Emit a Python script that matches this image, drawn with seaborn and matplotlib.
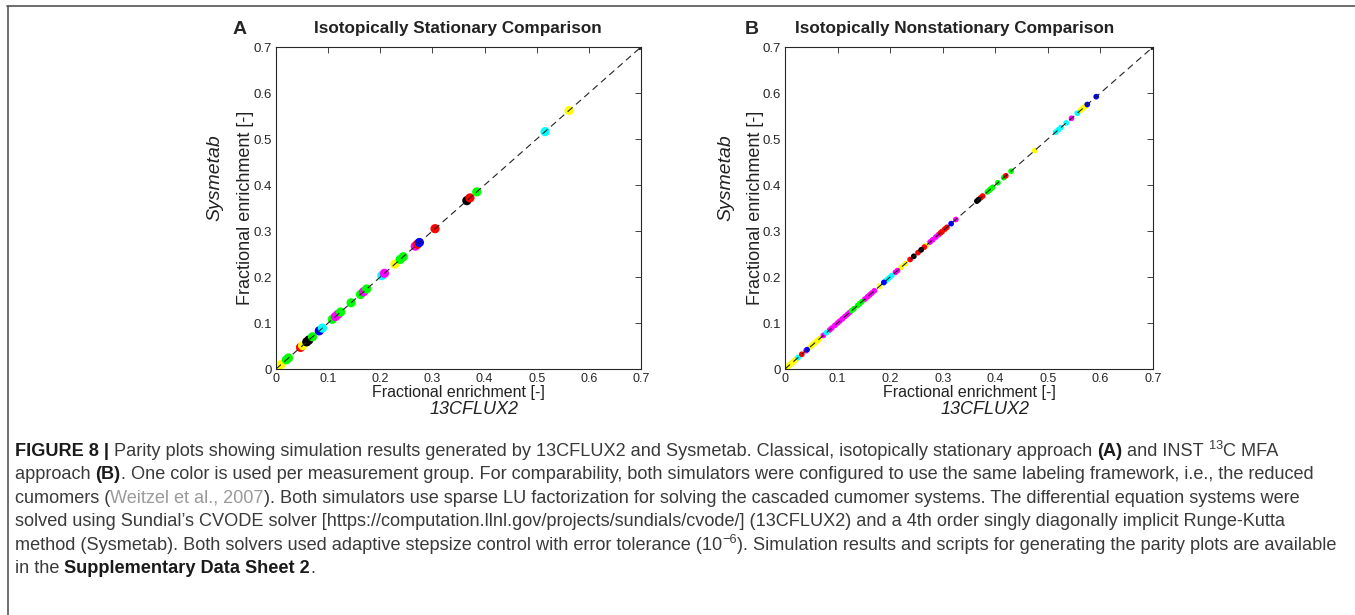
import matplotlib
matplotlib.use("Agg")
import matplotlib.pyplot as plt
import seaborn as sns
import pandas as pd
from matplotlib.lines import Line2D

W, H = 1355, 615

# MATLAB style colours, one per measurement group
group_colors = {"y": "#ffff00", "g": "#00ff00", "c": "#00ffff", "m": "#ff00ff",
                "r": "#ff0000", "b": "#0000ff", "k": "#000000"}

# Panel A (stationary): 13CFLUX2 value per point; Sysmetab values lie on the diagonal
a_flux = [0.004, 0.01, 0.02, 0.024, 0.047, 0.051, 0.059, 0.063, 0.07, 0.083, 0.089,
          0.108, 0.114, 0.119, 0.124, 0.144, 0.162, 0.168, 0.174, 0.203, 0.208,
          0.228, 0.238, 0.244, 0.267, 0.271, 0.275, 0.305, 0.366, 0.372, 0.385,
          0.516, 0.562]
a_sysm = list(a_flux)
a_group = ["y", "y", "g", "g", "r", "y", "k", "k", "g", "b", "c",
           "g", "m", "m", "g", "g", "g", "m", "g", "c", "m",
           "y", "g", "g", "m", "r", "b", "r", "k", "r", "g",
           "c", "y"]

# Panel B (nonstationary), one list per measurement group
b_yellow = [0.002, 0.004, 0.006, 0.008, 0.01, 0.012, 0.014, 0.016, 0.018, 0.02, 0.022,
            0.048, 0.052, 0.056, 0.06, 0.063, 0.066, 0.18, 0.221, 0.229, 0.268, 0.475,
            0.562, 0.566, 0.57, 0.573]
b_magenta = [0.04, 0.073, 0.085, 0.089, 0.095, 0.1, 0.104, 0.109, 0.114, 0.119, 0.123,
             0.152, 0.157, 0.161, 0.165, 0.17, 0.21, 0.214, 0.276, 0.281, 0.287, 0.292,
             0.325, 0.545]
b_green = [0.127, 0.131, 0.138, 0.142, 0.146, 0.385, 0.388, 0.391, 0.395, 0.405, 0.416, 0.43]
b_cyan = [0.025, 0.079, 0.191, 0.195, 0.199, 0.203, 0.515, 0.52, 0.525, 0.535, 0.556]
b_red = [0.032, 0.238, 0.253, 0.265, 0.296, 0.299, 0.304, 0.308, 0.372, 0.376, 0.42]
b_black = [0.245, 0.259, 0.365, 0.368]
b_blue = [0.042, 0.188, 0.316, 0.575, 0.592]

ticks = [0, 0.1, 0.2, 0.3, 0.4, 0.5, 0.6, 0.7]
tick_labels = ["0", "0.1", "0.2", "0.3", "0.4", "0.5", "0.6", "0.7"]

df_a = pd.DataFrame({"flux": a_flux, "sysm": a_sysm, "group": a_group})
b_parts = [("y", b_yellow), ("m", b_magenta), ("g", b_green), ("c", b_cyan),
           ("r", b_red), ("k", b_black), ("b", b_blue)]
df_b = pd.concat([pd.DataFrame({"flux": v, "sysm": v, "group": g}) for g, v in b_parts],
                 ignore_index=True)

sns.set_style("white")
REG = ["Liberation Sans", "DejaVu Sans"]
plt.rcParams["font.family"] = REG

fig = plt.figure(figsize=(W / 100, H / 100), dpi=100)
ax_a = fig.add_axes([276 / W, 1 - 369 / H, 365 / W, 322 / H])
ax_b = fig.add_axes([785 / W, 1 - 369 / H, 368 / W, 322 / H])


def px(x, y):
    return x / W, 1 - y / H


for ax, df, size in [(ax_a, df_a, 44), (ax_b, df_b, 17)]:
    sns.scatterplot(data=df, x="flux", y="sysm", hue="group", palette=group_colors,
                    s=size, linewidth=0, legend=False, ax=ax, zorder=2)
    ax.plot([0, 0.7], [0, 0.7], color="#222222", lw=0.8, dashes=(6, 4), zorder=3)
    ax.plot([0.7], [0.7], marker=">", color="#222222", ms=3, zorder=3)
    ax.set_xlim(0, 0.7)
    ax.set_ylim(0, 0.7)
    ax.set_xticks(ticks)
    ax.set_yticks(ticks)
    ax.set_xticklabels(tick_labels, fontsize=9)
    ax.set_yticklabels(tick_labels, fontsize=9.5)
    ax.set_xlabel("")
    ax.set_ylabel("")
    ax.tick_params(direction="in", top=True, right=True, length=4, width=0.6,
                   colors="#262626", pad=3)
    for sp in ax.spines.values():
        sp.set_color("#262626")
        sp.set_linewidth(0.8)

# panel letters, titles and axis labels
for cx, letter, title, tx in [(458, "A", "Isotopically Stationary Comparison", 240),
                              (969, "B", "Isotopically Nonstationary Comparison", 752)]:
    off = 0 if letter == "A" else -14
    fig.text(*px(tx, 29), letter, fontsize=14, fontweight="bold", ha="center", va="center")
    fig.text(*px(cx + off, 29), title, fontsize=12.3, fontweight="bold", ha="center",
             va="center", color="#222222")
    fig.text(*px(cx, 392), "Fractional enrichment [-]", fontsize=11.5,
             ha="center", va="center", color="#222222")
    fig.text(*px(cx + 16, 410), "13CFLUX2", style="italic", fontsize=13,
             ha="center", va="center", color="#222222")
    lx = cx - 458 + 245
    fig.text(*px(lx, 208), "Fractional enrichment [-]", fontsize=13, rotation=90,
             ha="center", va="center", color="#222222")
    fig.text(*px(lx - 30, 178), "Sysmetab", fontsize=14, style="italic", rotation=90,
             ha="center", va="center", color="#222222")

# frame lines of the figure panel
fig.add_artist(Line2D([7 / W, 1], [1 - 6 / H, 1 - 6 / H], color="#555555", lw=1.2))
fig.add_artist(Line2D([8 / W, 8 / W], [0, 1 - 6 / H], color="#555555", lw=1.2))

# caption, written run by run
TXT = "#3a3a3a"
renderer = fig.canvas.get_renderer()


def style_kw(style, cap):
    kw = dict(fontsize=cap, color=TXT, va="baseline")
    dy = 0
    if style == "b":
        kw["fontweight"] = "bold"
        kw["color"] = "#1a1a1a"
    elif style == "g":
        kw["color"] = "#9a9a9a"
    elif style == "sup":
        kw["fontsize"] = cap * 0.7
        dy = -7
    return kw, dy


def run_width(txt, kw):
    t1 = fig.text(0, 0, "x" + txt + "x", **kw)
    t2 = fig.text(0, 0, "xx", **kw)
    w = t1.get_window_extent(renderer).width - t2.get_window_extent(renderer).width
    t1.remove()
    t2.remove()
    return w


def line_width(runs, cap):
    return sum(run_width(txt, style_kw(st, cap)[0]) for txt, st in runs)


def put_runs(x, y, runs, cap):
    for txt, st in runs:
        kw, dy = style_kw(st, cap)
        fig.text(*px(x, y + dy), txt, **kw)
        x += run_width(txt, kw)


lines = [
    [("FIGURE 8 | ", "b"),
     ("Parity plots showing simulation results generated by 13CFLUX2 and Sysmetab. "
      "Classical, isotopically stationary approach ", ""), ("(A)", "b"), (" and INST ", ""),
     ("13", "sup"), ("C MFA", "")],
    [("approach ", ""), ("(B)", "b"),
     (". One color is used per measurement group. For comparability, both simulators were "
      "configured to use the same labeling framework, i.e., the reduced", "")],
    [("cumomers (", ""), ("Weitzel et al., 2007", "g"),
     ("). Both simulators use sparse LU factorization for solving the cascaded cumomer "
      "systems. The differential equation systems were", "")],
    [("solved using Sundial\u2019s CVODE solver [https://computation.llnl.gov/projects/sundials/"
      "cvode/] (13CFLUX2) and a 4th order singly diagonally implicit Runge-Kutta", "")],
    [("method (Sysmetab). Both solvers used adaptive stepsize control with error tolerance (10", ""),
     ("\u22126", "sup"),
     ("). Simulation results and scripts for generating the parity plots are available", "")],
    [("in the ", ""), ("Supplementary Data Sheet 2", "b"), (".", "")],
]
# caption size chosen so the second line spans the same width as in the figure
cap = 12 * 1310 / line_width(lines[1], 12)
for i, runs in enumerate(lines):
    put_runs(15, 456 + i * 23.4, runs, cap)

fig.savefig("out.png", dpi=100)
